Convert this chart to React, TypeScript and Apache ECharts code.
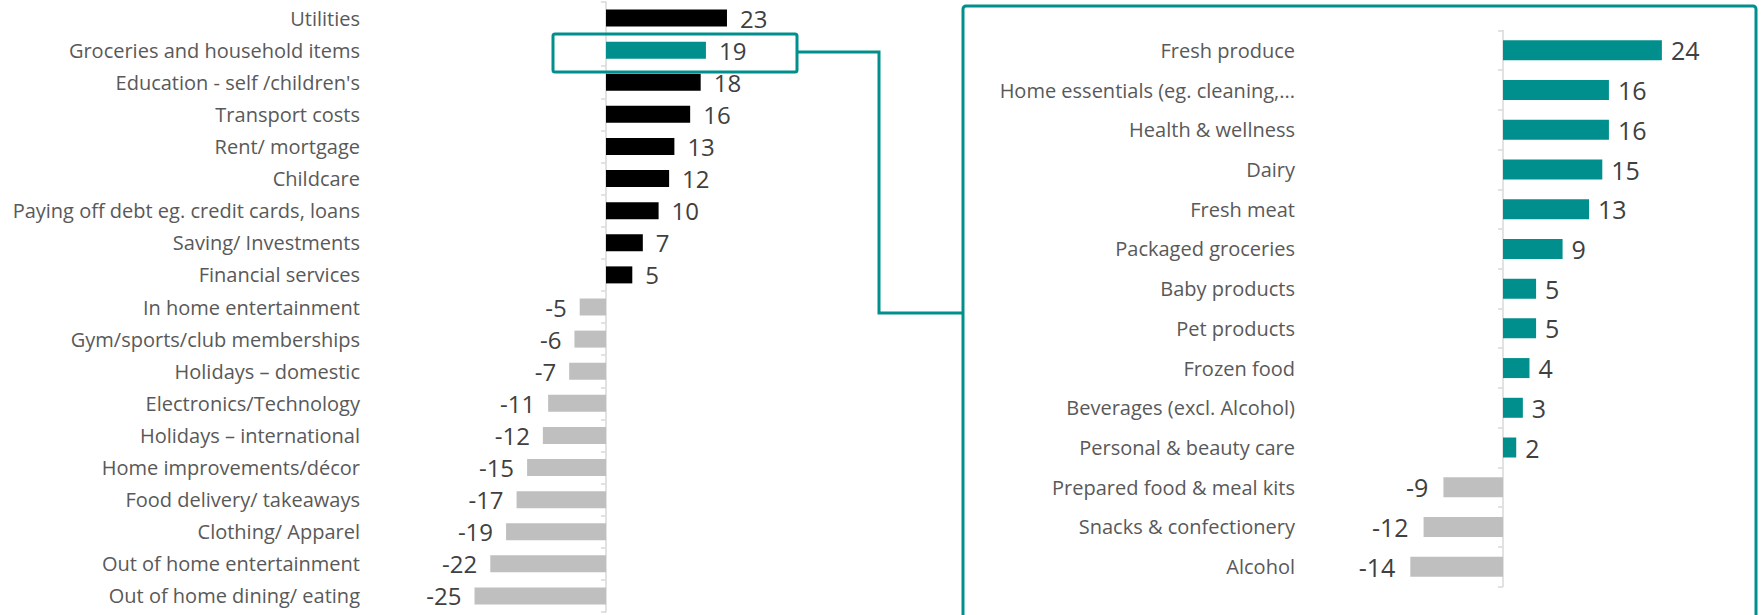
import React, { useEffect, useRef } from "react";
import * as echarts from "echarts";

const leftCategories = [
  "Utilities",
  "Groceries and household items",
  "Education - self /children's",
  "Transport costs",
  "Rent/ mortgage",
  "Childcare",
  "Paying off debt eg. credit cards, loans",
  "Saving/ Investments",
  "Financial services",
  "In home entertainment",
  "Gym/sports/club memberships",
  "Holidays – domestic",
  "Electronics/Technology",
  "Holidays – international",
  "Home improvements/décor",
  "Food delivery/ takeaways",
  "Clothing/ Apparel",
  "Out of home entertainment",
  "Out of home dining/ eating",
];
const leftValues = [23, 19, 18, 16, 13, 12, 10, 7, 5, -5, -6, -7, -11, -12, -15, -17, -19, -22, -25];
const highlightedCategory = "Groceries and household items";

const rightCategories = [
  "Fresh produce",
  "Home essentials (eg. cleaning,...",
  "Health & wellness",
  "Dairy",
  "Fresh meat",
  "Packaged groceries",
  "Baby products",
  "Pet products",
  "Frozen food",
  "Beverages (excl. Alcohol)",
  "Personal & beauty care",
  "Prepared food & meal kits",
  "Snacks & confectionery",
  "Alcohol",
];
const rightValues = [24, 16, 16, 15, 13, 9, 5, 5, 4, 3, 2, -9, -12, -14];

const TEAL = "#008F8C";
const GREY = "#BFBFBF";
const BLACK = "#000000";
const FONT = "Open Sans";
const LABEL_COLOR = "#595959";
const VALUE_COLOR = "#404040";

export default function App() {
  const ref = useRef<HTMLDivElement>(null);

  useEffect(() => {
    if (!ref.current) return;
    const chart = echarts.init(ref.current, undefined, { renderer: "svg" });

    const leftData = leftValues.map((v, i) => ({
      value: v,
      itemStyle: {
        color: leftCategories[i] === highlightedCategory ? TEAL : v >= 0 ? BLACK : GREY,
      },
      label: { position: v >= 0 ? "right" : "left", distance: 13 },
    }));
    const rightData = rightValues.map((v) => ({
      value: v,
      itemStyle: { color: v >= 0 ? TEAL : GREY },
      label: { position: v >= 0 ? "right" : "left", distance: v >= 0 ? 9 : 15 },
    }));

    const catAxis = (idx: number, data: string[], margin: number) => ({
      type: "category",
      gridIndex: idx,
      data,
      inverse: true,
      axisLine: { show: true, onZero: true, lineStyle: { color: "#D9D9D9", width: 1.5 } },
      axisTick: { show: true, length: 5, lineStyle: { color: "#D9D9D9", width: 1.5 } },
      axisLabel: {
        interval: 0,
        margin,
        color: LABEL_COLOR,
        fontFamily: FONT,
        fontSize: 20,
      },
      splitLine: { show: false },
    });

    const valAxis = (idx: number, min: number, max: number) => ({
      type: "value",
      gridIndex: idx,
      min,
      max,
      show: false,
      splitLine: { show: false },
    });

    const labelStyle = {
      show: true,
      color: VALUE_COLOR,
      fontFamily: FONT,
      fontSize: 24,
    };

    chart.setOption({
      animation: false,
      backgroundColor: "#FFFFFF",
      grid: [
        { left: 474.5, width: 263, top: 2, height: 610, outerBoundsMode: "none", containLabel: false },
        { left: 1403.7, width: 264.8, top: 30.5, height: 556, outerBoundsMode: "none", containLabel: false },
      ],
      xAxis: [valAxis(0, -25, 25), valAxis(1, -15, 25)],
      yAxis: [catAxis(0, leftCategories, 114.5), catAxis(1, rightCategories, 108.7)],
      series: [
        {
          type: "bar",
          xAxisIndex: 0,
          yAxisIndex: 0,
          barWidth: 17,
          data: leftData,
          label: labelStyle,
        },
        {
          type: "bar",
          xAxisIndex: 1,
          yAxisIndex: 1,
          barWidth: 20,
          data: rightData,
          label: { ...labelStyle, fontSize: 25 },
        },
      ],
      graphic: [
        {
          type: "rect",
          shape: { x: 553, y: 34, width: 244, height: 38, r: 2 },
          style: { fill: "none", stroke: TEAL, lineWidth: 3 },
          z: 10,
        },
        {
          type: "polyline",
          shape: { points: [[797, 52], [879, 52], [879, 313], [963, 313]] },
          style: { fill: "none", stroke: TEAL, lineWidth: 3 },
          z: 10,
        },
        {
          type: "rect",
          shape: { x: 963, y: 6, width: 793, height: 700, r: 3 },
          style: { fill: "none", stroke: TEAL, lineWidth: 3 },
          z: 10,
        },
      ],
    });

    return () => chart.dispose();
  }, []);

  return (
    <div
      ref={ref}
      style={{ position: "absolute", left: 0, top: 0, width: 1761, height: 615 }}
    />
  );
}
